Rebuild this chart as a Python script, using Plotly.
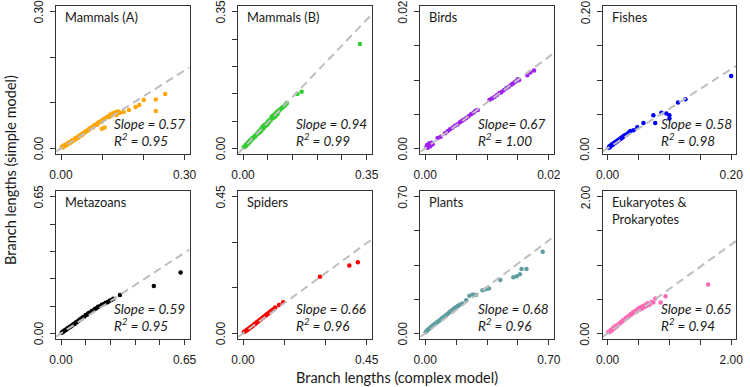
import plotly.graph_objects as go

# ---------------- data ----------------
names = ["Mammals (A)", "Mammals (B)", "Birds", "Fishes",
         "Metazoans", "Spiders", "Plants", "Eukaryotes &\nProkaryotes"]
colors = ["#FFA500", "#32CD32", "#A020F0", "#0000FF",
          "#000000", "#FF0000", "#5F9EA0", "#FF69B4"]
axis_max = [0.30, 0.35, 0.02, 0.20, 0.65, 0.45, 0.70, 2.00]
n_ticks = [4, 6, 5, 5, 6, 4, 5, 5]
slopes = [0.57, 0.94, 0.67, 0.58, 0.59, 0.66, 0.68, 0.65]
slope_labels = ["Slope = 0.57", "Slope = 0.94", "Slope= 0.67", "Slope = 0.58",
                "Slope = 0.59", "Slope = 0.66", "Slope = 0.68", "Slope = 0.65"]
r2_labels = ["0.95", "0.99", "1.00", "0.98", "0.95", "0.96", "0.96", "0.94"]
tick_text_max = ["0.30", "0.35", "0.02", "0.20", "0.65", "0.45", "0.70", "2.00"]

mamA_x = [0.002,0.004,0.005,0.007,0.008,0.010,0.011,0.013,0.015,0.016,0.018,0.020,0.022,0.024,0.026,0.028,0.030,0.032,0.035,0.037,
          0.040,0.042,0.045,0.047,0.050,0.052,0.055,0.058,0.060,0.063,0.066,0.068,0.070,0.073,0.076,0.078,0.080,0.083,0.086,0.088,
          0.090,0.093,0.095,0.098,0.099,0.101,0.104,0.106,0.108,0.111,0.114,0.117,0.120,0.123,0.126,0.129,0.132,0.135,0.138,0.143,
          0.152,0.165,0.181,0.190,0.201,0.230,0.230,0.253]
mamA_y = [0.003,0.004,0.002,0.006,0.005,0.007,0.006,0.009,0.008,0.010,0.012,0.011,0.014,0.013,0.017,0.016,0.019,0.018,0.022,0.021,
          0.025,0.024,0.028,0.027,0.031,0.030,0.034,0.035,0.037,0.038,0.041,0.040,0.044,0.045,0.047,0.046,0.050,0.051,0.053,0.052,
          0.056,0.057,0.059,0.058,0.043,0.062,0.064,0.046,0.066,0.068,0.070,0.069,0.074,0.072,0.077,0.075,0.079,0.073,0.081,0.078,
          0.080,0.084,0.091,0.095,0.106,0.107,0.082,0.119]

mamB_x = [0.002,0.004,0.006,0.008,0.010,0.012,0.014,0.016,0.018,0.020,0.023,0.026,0.029,0.032,0.035,0.038,0.041,0.044,0.047,0.050,
          0.052,0.055,0.058,0.060,0.063,0.066,0.068,0.070,0.072,0.075,0.078,0.080,0.082,0.085,0.088,0.090,0.092,0.094,0.096,0.098,
          0.100,0.103,0.106,0.110,0.114,0.118,0.122,0.124,0.154,0.166,0.331]
mamB_y = [0.003,0.005,0.004,0.009,0.008,0.013,0.012,0.017,0.015,0.021,0.020,0.026,0.025,0.031,0.030,0.036,0.037,0.043,0.040,0.049,
          0.045,0.055,0.051,0.060,0.057,0.063,0.060,0.069,0.064,0.072,0.071,0.077,0.082,0.078,0.086,0.080,0.090,0.085,0.093,0.088,
          0.096,0.097,0.100,0.104,0.106,0.110,0.113,0.116,0.139,0.145,0.267]

bird_x = [0.0002,0.0003,0.0004,0.0005,0.0006,0.0008,0.0010,0.0012,0.0020,0.0025,0.0032,0.0036,0.0040,0.0044,0.0048,0.0052,0.0056,
          0.0059,0.0062,0.0066,0.0070,0.0074,0.0078,0.0081,0.0085,0.0104,0.0108,0.0112,0.0116,0.0120,0.0123,0.0127,0.0131,0.0135,
          0.0139,0.0142,0.0145,0.0148,0.0150,0.0152,0.0165,0.0170,0.0176]
bird_y = [0.0002,0.0005,0.0001,0.0004,0.0007,0.0003,0.0008,0.0006,0.0015,0.0017,0.0022,0.0025,0.0028,0.0030,0.0033,0.0035,0.0038,
          0.0040,0.0042,0.0044,0.0047,0.0050,0.0052,0.0055,0.0056,0.0071,0.0073,0.0075,0.0078,0.0081,0.0082,0.0085,0.0088,0.0090,
          0.0093,0.0095,0.0097,0.0099,0.0101,0.0100,0.0107,0.0111,0.0114]

fish_x = [0.002,0.003,0.004,0.005,0.006,0.007,0.008,0.009,0.010,0.011,0.012,0.013,0.014,0.015,0.016,0.017,0.018,0.019,0.020,0.021,
          0.022,0.023,0.024,0.025,0.026,0.028,0.030,0.032,0.034,0.037,0.042,0.048,0.058,0.074,0.077,0.087,0.095,0.100,0.100,0.114,
          0.126,0.200]
fish_y = [0.001,0.003,0.002,0.004,0.004,0.006,0.005,0.006,0.007,0.008,0.008,0.009,0.010,0.010,0.011,0.012,0.012,0.013,0.014,0.014,
          0.015,0.016,0.016,0.017,0.018,0.019,0.020,0.021,0.023,0.0255,0.0265,0.031,0.037,0.0485,0.037,0.052,0.051,0.0485,0.0437,0.067,
          0.072,0.106]

meta_x = [0.004,0.008,0.012,0.016,0.020,0.025,0.030,0.035,0.040,0.045,0.050,0.055,0.060,0.066,0.072,0.078,0.084,0.090,0.096,0.102,
          0.108,0.115,0.122,0.130,0.138,0.146,0.154,0.162,0.170,0.178,0.186,0.195,0.205,0.215,0.225,0.235,0.245,0.255,0.265,0.275,
          0.310,0.488,0.629]
meta_y = [0.003,0.008,0.007,0.012,0.013,0.017,0.019,0.024,0.025,0.030,0.031,0.036,0.038,0.044,0.046,0.052,0.054,0.059,0.062,0.068,
          0.070,0.077,0.079,0.087,0.089,0.097,0.099,0.106,0.109,0.116,0.119,0.126,0.129,0.136,0.139,0.146,0.148,0.155,0.158,0.165,
          0.182,0.225,0.289]

spid_x = [0.003,0.006,0.009,0.012,0.015,0.018,0.021,0.024,0.027,0.030,0.033,0.036,0.039,0.042,0.045,0.048,0.051,0.054,0.057,0.060,
          0.063,0.066,0.069,0.072,0.075,0.078,0.081,0.084,0.087,0.090,0.093,0.096,0.100,0.104,0.108,0.113,0.117,0.131,0.146,0.280,
          0.387,0.418]
spid_y = [0.004,0.005,0.008,0.009,0.012,0.013,0.016,0.017,0.020,0.021,0.024,0.025,0.028,0.030,0.032,0.034,0.037,0.038,0.041,0.043,
          0.045,0.047,0.050,0.051,0.054,0.056,0.058,0.060,0.063,0.064,0.067,0.069,0.072,0.074,0.077,0.081,0.085,0.093,0.102,0.186,
          0.223,0.234]

plant_x = [0.002,0.008,0.014,0.020,0.029,0.036,0.044,0.052,0.060,0.066,0.074,0.082,0.090,0.096,0.103,0.110,0.118,0.126,0.134,0.140,
           0.148,0.156,0.164,0.170,0.177,0.185,0.195,0.210,0.232,0.250,0.269,0.287,0.324,0.343,0.361,0.425,0.499,0.518,0.536,0.545,
           0.573,0.665]
plant_y = [0.005,0.012,0.018,0.022,0.030,0.035,0.041,0.047,0.052,0.057,0.062,0.067,0.074,0.078,0.082,0.088,0.093,0.099,0.105,0.110,
           0.116,0.121,0.127,0.131,0.135,0.140,0.146,0.153,0.170,0.192,0.199,0.196,0.221,0.226,0.230,0.273,0.287,0.293,0.302,0.329,
           0.329,0.418]

euk_x = [0.01,0.03,0.05,0.07,0.09,0.11,0.13,0.15,0.17,0.19,0.21,0.23,0.25,0.27,0.29,0.31,0.33,0.35,0.37,0.39,
         0.41,0.43,0.45,0.47,0.49,0.51,0.53,0.55,0.57,0.59,0.61,0.63,0.65,0.68,0.71,0.74,0.77,0.858,0.937,1.627]
euk_y = [0.02,0.02,0.05,0.04,0.08,0.07,0.11,0.10,0.13,0.14,0.16,0.17,0.19,0.19,0.22,0.22,0.25,0.25,0.28,0.28,
         0.31,0.30,0.33,0.32,0.36,0.34,0.38,0.36,0.40,0.38,0.42,0.40,0.44,0.42,0.46,0.45,0.51,0.451,0.544,0.716]

xs = [mamA_x, mamB_x, bird_x, fish_x, meta_x, spid_x, plant_x, euk_x]
ys = [mamA_y, mamB_y, bird_y, fish_y, meta_y, spid_y, plant_y, euk_y]

# ---------------- layout geometry (pixels) ----------------
W, H = 750, 387
col_left = [50, 235.5, 421.2, 607]
box_w = 136
row_top = [6.2, 191.2]
box_h = 147.6

def px(x):
    return x / W

def py(y):
    return 1 - y / H

fig = go.Figure()
layout = dict(
    width=W, height=H,
    margin=dict(l=0, r=0, t=0, b=0),
    paper_bgcolor="white", plot_bgcolor="white",
    showlegend=False, hovermode=False,
    font=dict(family="Liberation Sans, Arial", color="#1a1a1a", size=12),
)
annotations = []
LINE_C = "#333333"
TXT_FONT = "Lato, Noto Sans, sans-serif"
TICK_FONT = dict(family="Liberation Sans, Arial", size=12, color="#1a1a1a")

for i in range(8):
    r, c = divmod(i, 4)
    L = col_left[c]
    T = row_top[r]
    m = axis_max[i]
    rng = [-0.04 * m, 1.04 * m]
    k = n_ticks[i]
    tv = [m * j / (k - 1) for j in range(k)]
    tt = ["0.00"] + [" "] * (k - 2) + [tick_text_max[i]]
    idx = "" if i == 0 else str(i + 1)
    xa = "x" + idx
    ya = "y" + idx

    fig.add_trace(go.Scatter(x=xs[i], y=ys[i], mode="markers", xaxis=xa, yaxis=ya,
                             marker=dict(color=colors[i], size=4.5, line=dict(width=0)),
                             cliponaxis=True))
    fig.add_trace(go.Scatter(x=[rng[0], rng[1]], y=[slopes[i] * rng[0], slopes[i] * rng[1]],
                             mode="lines", xaxis=xa, yaxis=ya,
                             line=dict(color="#BEBEBE", width=2, dash="8px,5px")))

    common = dict(range=rng, tickmode="array", tickvals=tv, ticktext=tt,
                  showgrid=False, zeroline=False, showline=True, mirror=True,
                  linecolor=LINE_C, linewidth=1, ticks="outside", ticklen=5,
                  tickcolor=LINE_C, tickwidth=1, fixedrange=True,
                  tickfont=TICK_FONT)
    layout["xaxis" + idx] = dict(common, domain=[px(L), px(L + box_w)], anchor=ya,
                                 ticklabelstandoff=5)
    layout["yaxis" + idx] = dict(common, domain=[py(T + box_h), py(T)], anchor=xa,
                                 showticklabels=False)

    # rotated y tick labels (end ticks only), placed at the tick values
    for val, lab in ((tv[0], tt[0]), (tv[-1], tt[-1])):
        annotations.append(dict(x=px(L - 17.5), y=val, xref="paper", yref=ya,
                                text=lab, showarrow=False, textangle=-90,
                                xanchor="center", yanchor="middle", font=TICK_FONT))

    # panel name
    for li, line in enumerate(names[i].split("\n")):
        annotations.append(dict(x=px(L + 7), y=py(T + 10.5 + li * 16.8), xref="paper", yref="paper",
                                text=line, showarrow=False, xanchor="left", yanchor="middle",
                                font=dict(family=TXT_FONT, size=12.8, color="#1a1a1a")))
    annotations.append(dict(x=px(L + 57), y=py(T + 117.5), xref="paper", yref="paper",
                            text="<i>" + slope_labels[i] + "</i>", showarrow=False,
                            xanchor="left", yanchor="middle",
                            font=dict(family=TXT_FONT, size=13.5, color="#1a1a1a")))
    annotations.append(dict(x=px(L + 57), y=py(T + 133.5), xref="paper", yref="paper",
                            text="<i>R<sup>2</sup> = " + r2_labels[i] + "</i>", showarrow=False,
                            xanchor="left", yanchor="middle",
                            font=dict(family=TXT_FONT, size=13.5, color="#1a1a1a")))

annotations.append(dict(x=px(397), y=py(377), xref="paper", yref="paper",
                        text="Branch lengths (complex model)", showarrow=False,
                        xanchor="center", yanchor="middle",
                        font=dict(family=TXT_FONT, size=14.5, color="#1a1a1a")))
annotations.append(dict(x=px(3), y=py(170), xref="paper", yref="paper",
                        text="Branch lengths (simple model)", showarrow=False, textangle=-90,
                        xanchor="center", yanchor="middle",
                        font=dict(family=TXT_FONT, size=14.5, color="#1a1a1a")))
layout["annotations"] = annotations
fig.update_layout(**layout)
fig.write_html("out.html", config={"displayModeBar": False},
               post_script="document.body.style.margin='0';document.body.style.padding='0';")
